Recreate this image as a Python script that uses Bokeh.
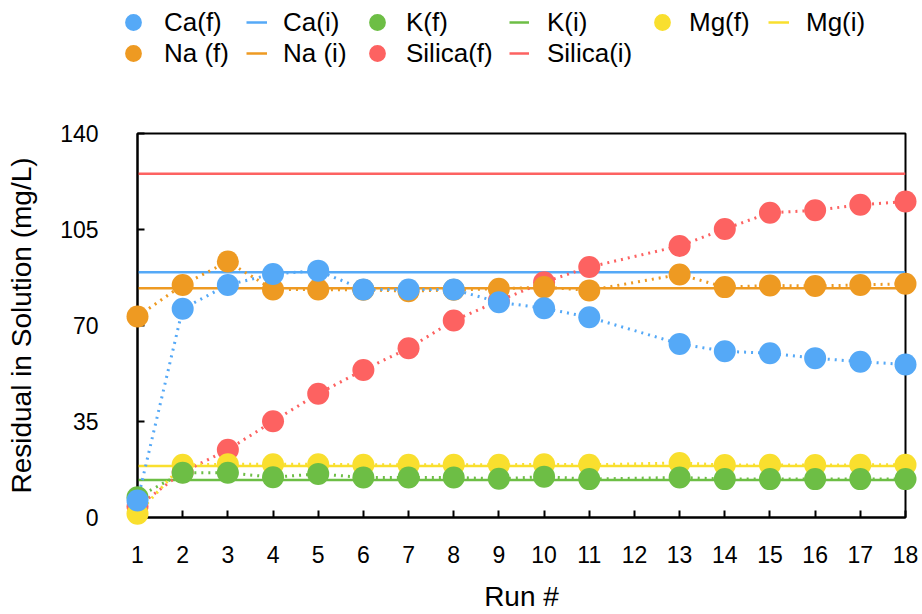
from bokeh.plotting import figure
from bokeh.models import Range1d, FixedTicker, Legend, LegendItem
from bokeh.layouts import column
from bokeh.embed import file_html
from bokeh.resources import INLINE

# ---- data ----
runs = [1, 2, 3, 4, 5, 6, 7, 8, 9, 10, 11, 13, 14, 15, 16, 17, 18]
x_ticks = list(range(1, 19))
y_ticks = [0, 35, 70, 105, 140]

ca_f = [6.2, 76.1, 84.8, 88.8, 90.0, 83.1, 83.1, 83.1, 78.5, 76.3, 73.0, 63.3, 60.6, 59.9, 58.1, 56.8, 55.8]
na_f = [73.3, 84.8, 93.3, 83.1, 83.1, 83.0, 82.5, 83.0, 83.4, 84.0, 82.8, 88.6, 84.0, 84.6, 84.4, 84.8, 85.2]
k_f = [7.4, 16.3, 16.3, 14.7, 15.9, 14.6, 14.6, 14.6, 14.1, 14.9, 14.0, 14.6, 14.0, 14.0, 14.0, 14.0, 14.0]
mg_f = [1.4, 19.2, 19.4, 19.4, 19.4, 19.2, 19.2, 19.2, 19.2, 19.4, 19.2, 19.9, 19.1, 19.2, 19.1, 19.2, 19.2]
si_f = [4.0, 16.5, 24.7, 35.1, 45.1, 53.8, 61.7, 71.8, 79.0, 85.8, 91.3, 99.0, 105.2, 111.1, 112.0, 114.0, 115.2]

ca_i = 89.4
na_i = 83.6
k_i = 13.7
mg_i = 18.8
si_i = 125.3

C_CA = "#55A9F7"
C_NA = "#EE9A22"
C_K = "#6DBE45"
C_MG = "#F9DF2E"
C_SI = "#FD6261"

FONT = "Liberation Sans"

series = [
    ("Silica", si_f, si_i, C_SI),
    ("Mg", mg_f, mg_i, C_MG),
    ("K", k_f, k_i, C_K),
    ("Na", na_f, na_i, C_NA),
    ("Ca", ca_f, ca_i, C_CA),
]
x_ends = [runs[0], runs[-1]]

# ---------------- main chart ----------------
p = figure(frame_width=768, frame_height=384,
           x_range=Range1d(1, 18), y_range=Range1d(0, 140),
           output_backend="svg", toolbar_location=None,
           min_border_left=137, min_border_right=16,
           min_border_top=53, min_border_bottom=96)
p.grid.visible = False
p.outline_line_color = "black"
p.outline_line_width = 2
p.outline_line_alpha = 1
p.background_fill_color = "white"
p.border_fill_color = "white"

for ax in (p.xaxis[0], p.yaxis[0]):
    ax.axis_line_width = 2
    ax.axis_line_color = "black"
    ax.major_tick_line_width = 2
    ax.major_tick_line_color = "black"
    ax.major_tick_in = 7
    ax.major_tick_out = 0
    ax.minor_tick_in = 0
    ax.minor_tick_out = 0
    ax.major_label_text_font = FONT
    ax.major_label_text_font_size = "23px"
    ax.major_label_text_color = "black"
    ax.axis_label_text_font = FONT
    ax.axis_label_text_font_style = "normal"
    ax.axis_label_text_color = "black"

p.xaxis.ticker = FixedTicker(ticks=x_ticks)
p.yaxis.ticker = FixedTicker(ticks=y_ticks)
p.xaxis.major_label_standoff = 28
p.yaxis.major_label_standoff = 39
p.yaxis.axis_label = "Residual in Solution (mg/L)"
p.yaxis.axis_label_text_font_size = "28px"
p.yaxis.axis_label_standoff = 20
p.xaxis.axis_label = "Run #"
p.xaxis.axis_label_text_font_size = "28px"
p.xaxis.axis_label_standoff = 15

for name, vals, init, col in series:
    p.line(x_ends, [init, init], line_color=col, line_width=2.5)
for name, vals, init, col in series:
    p.line(runs, vals, line_color=col, line_width=3, line_dash="2 5")
for name, vals, init, col in series:
    p.scatter(runs, vals, size=22, fill_color=col, line_color=col,
              line_width=0, marker="circle", level="overlay")

# ---------------- legend strip ----------------
LH = 80
lf = figure(frame_width=922, frame_height=LH, x_range=Range1d(0, 1), y_range=Range1d(0, 1),
            output_backend="svg", toolbar_location=None,
            min_border=0, min_border_left=0, min_border_right=0,
            min_border_top=0, min_border_bottom=0,
            x_axis_type=None, y_axis_type=None)
lf.grid.visible = False
lf.outline_line_color = None
lf.background_fill_color = "white"
lf.border_fill_color = "white"

pt_r = {}
init_r = {}
for name, vals, init, col in series:
    init_r[name] = lf.line(x_ends, [init, init], line_color=col, line_width=2.5, visible=False)
    pt_r[name] = lf.scatter(runs, vals, fill_color=col, line_color=col, line_width=0,
                            marker="circle", visible=False)

ROW_CENTERS = [22, 53]
GH = 42


def add_legend(label, renderer, row, x0, gw, standoff):
    top = ROW_CENTERS[row] - GH // 2
    vy = LH - (top + GH)
    lg = Legend(items=[LegendItem(label=label, renderers=[renderer])], location=(x0, vy),
                orientation="vertical", glyph_width=gw, glyph_height=GH,
                spacing=0, label_standoff=standoff, padding=0, margin=0,
                border_line_alpha=0, background_fill_alpha=0,
                inactive_fill_alpha=0,
                label_text_font=FONT, label_text_font_size="26px",
                label_text_color="black")
    lf.add_layout(lg, "center")


add_legend("Ca(f)", pt_r["Ca"], 0, 112, 42, 10)
add_legend("Na (f)", pt_r["Na"], 1, 112, 42, 10)
add_legend("Ca(i)", init_r["Ca"], 0, 246, 21, 16)
add_legend("Na (i)", init_r["Na"], 1, 246, 21, 16)
add_legend("K(f)", pt_r["K"], 0, 356, 42, 8)
add_legend("Silica(f)", pt_r["Silica"], 1, 356, 42, 8)
add_legend("K(i)", init_r["K"], 0, 509, 20, 18)
add_legend("Silica(i)", init_r["Silica"], 1, 509, 20, 18)
add_legend("Mg(f)", pt_r["Mg"], 0, 641, 42, 6)
add_legend("Mg(i)", init_r["Mg"], 0, 768, 21, 17)

layout = column(lf, p, spacing=0)
open("out.html", "w").write(file_html(layout, INLINE))
